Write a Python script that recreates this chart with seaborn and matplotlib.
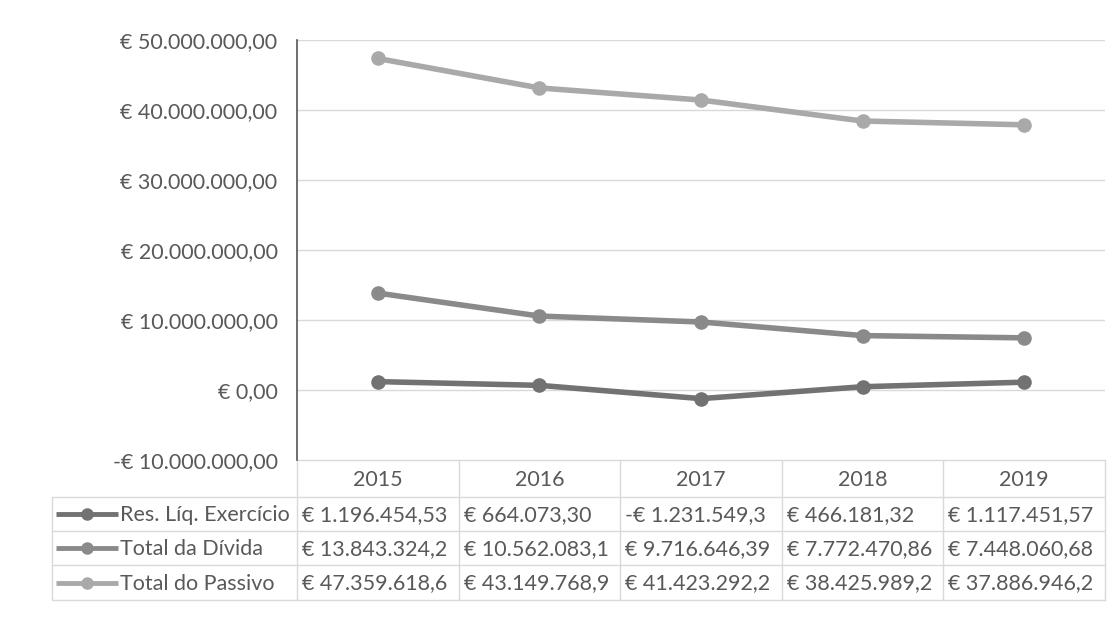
import matplotlib
matplotlib.use("Agg")
from matplotlib import pyplot as plt
import pandas as pd
import seaborn as sns

# data
years = ["2015", "2016", "2017", "2018", "2019"]
series_names = ["Res. Líq. Exercício", "Total da Dívida", "Total do Passivo"]
res_liq = [1196454.53, 664073.30, -1231549.30, 466181.32, 1117451.57]
total_divida = [13843324.20, 10562083.10, 9716646.39, 7772470.86, 7448060.68]
total_passivo = [47359618.60, 43149768.90, 41423292.20, 38425989.20, 37886946.20]
y_ticks = [-10000000, 0, 10000000, 20000000, 30000000, 40000000, 50000000]

line_colors = ["#727272", "#8a8a8a", "#a9a9a9"]
text_color = "#595959"
grid_color = "#d9d9d9"
fs = 15.5


def euro(v, decimals=2):
    s = f"{abs(v):,.{decimals}f}".replace(",", "X").replace(".", ",").replace("X", ".")
    return ("-€ " if v < 0 else "€ ") + s


def cell(v):
    # Excel cut the wider cells, they only show 14 characters
    return euro(v)[:14]


values = [res_liq, total_divida, total_passivo]
rows = []
for name, vals in zip(series_names, values):
    for i, v in enumerate(vals):
        rows.append({"pos": i, "valor": v, "serie": name})
df = pd.DataFrame(rows)

sns.set_theme(style="white")
plt.rcParams["font.family"] = ["Lato", "DejaVu Sans"]

W, H = 1118, 620
fig = plt.figure(figsize=(W / 100, H / 100), dpi=100)
fig.patch.set_facecolor("white")

# plot area in pixels
px0, px1, py0, py1 = 297, 1105, 40, 460
ax = fig.add_axes([px0 / W, 1 - py1 / H, (px1 - px0) / W, (py1 - py0) / H])

sns.lineplot(data=df, x="pos", y="valor", hue="serie", palette=line_colors,
             marker="o", markersize=10.5, linewidth=4, legend=False, ax=ax,
             markeredgewidth=0)

ax.set_xlim(-0.5, len(years) - 0.5)
ax.set_ylim(y_ticks[0], y_ticks[-1])
ax.set_yticks(y_ticks)
ax.set_yticklabels([euro(t) for t in y_ticks], color=text_color, fontsize=fs)
ax.tick_params(axis="y", length=0, pad=14)
ax.set_xticks([])
ax.set_xlabel("")
ax.set_ylabel("")
ax.grid(axis="y", color=grid_color, linewidth=1)
ax.set_axisbelow(True)
for s in ["top", "right", "bottom"]:
    ax.spines[s].set_visible(False)
ax.spines["left"].set_color("#555555")
ax.spines["left"].set_linewidth(1.2)

# data table below the plot
tax = fig.add_axes([0, 0, 1, 1], zorder=-1)
tax.set_xlim(0, W)
tax.set_ylim(H, 0)
tax.axis("off")

col_w = (px1 - px0) / len(years)
row_edges = [py1, 497, 531, 565, 600]
lx0 = 52
line_kw = dict(color=grid_color, linewidth=1)

# header
for i, y in enumerate(years):
    tax.text(px0 + (i + 0.5) * col_w, (row_edges[0] + row_edges[1]) / 2 + 1, y,
             ha="center", va="center", fontsize=fs, color=text_color)
# horizontal lines
tax.plot([px0, px1], [row_edges[0], row_edges[0]], **line_kw)
for ye in row_edges[1:]:
    tax.plot([lx0, px1], [ye, ye], **line_kw)
# vertical lines
for i in range(len(years) + 1):
    tax.plot([px0 + i * col_w] * 2, [row_edges[0], row_edges[-1]], **line_kw)
tax.plot([lx0, lx0], [row_edges[1], row_edges[-1]], **line_kw)

for r, (name, vals, c) in enumerate(zip(series_names, values, line_colors)):
    yc = (row_edges[r + 1] + row_edges[r + 2]) / 2
    tax.plot([56, 118], [yc, yc], color=c, linewidth=3.5, solid_capstyle="butt")
    tax.plot([87], [yc], marker="o", markersize=9, color=c, markeredgewidth=0)
    tax.text(120, yc + 1, name, ha="left", va="center", fontsize=fs, color=text_color)
    for i, v in enumerate(vals):
        tax.text(px0 + i * col_w + 5, yc + 1, cell(v), ha="left", va="center",
                 fontsize=fs, color=text_color)

fig.savefig("out.png", dpi=100, facecolor="white")
